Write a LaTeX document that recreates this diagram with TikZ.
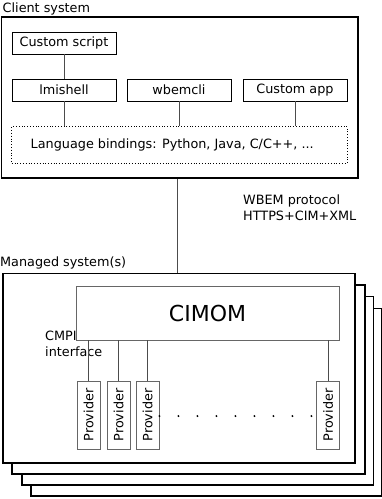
\documentclass[tikz,border=0pt]{standalone}
\usepackage{fontspec}
\setmainfont{DejaVu Sans}
\usetikzlibrary{positioning,calc}

\begin{document}
\begin{tikzpicture}[x=1pt,y=-1pt,
    box/.style={draw,line width=0.8pt,minimum width=104pt,minimum height=22pt,inner sep=0pt},
    frame/.style={draw,line width=1.6pt,fill=white,inner sep=0pt},
    gbox/.style={draw=black!60,line width=0.8pt,fill=white,inner sep=0pt},
    link/.style={draw=black!70,line width=0.7pt},
    lbl/.style={inner sep=0pt,align=left}]
    \fontsize{12.8}{16}\selectfont
    \useasboundingbox (0,0) rectangle (382,499);

    % Client system
    \node[lbl, anchor=base west] (clabel) at (2.5,12.7) {Client system};
    \node[frame, minimum width=356pt, minimum height=161.3pt] (client) at (179.7,97.4) {};
    \node[box] (script) at (64,43) {Custom script};
    \node[box] (lmishell) at (64,90) {lmishell};
    \node[box] (wbemcli) at (179,90) {wbemcli};
    \node[box] (app) at (295,90) {Custom app};
    \node[box, dotted, minimum width=335.6pt, minimum height=36.6pt] (bind) at (179.5,145) {};
    \node[lbl, anchor=west] (bindtxt) at (30.5,145) {Language bindings: Python, Java, C/C++, ...};
    \draw[link] (script) -- (lmishell);
    \foreach \n in {lmishell,wbemcli,app} {
        \draw[link] (\n) -- (\n |- bind.north);
    }

    % Managed systems (stacked)
    \node[lbl, anchor=base west] (mlabel) at (0,266.5) {Managed system(s)};
    \foreach \k/\l/\t/\r/\b in {3/30/307.7/381/495,2/21/295.7/372.7/484,1/11.3/284/364/473,0/2/272.7/354.3/462} {
        \node[frame, anchor=north west, minimum width={\r-\l}, minimum height={\b-\t}] (m\k) at (\l,\t) {};
    }

    % Protocol
    \draw[link] ([xshift=-2.7pt]client.south) -- ([xshift=-2.7pt]client.south |- m0.north);
    \node[lbl, anchor=base west] (wbem) at (243,220.7) {WBEM protocol\\HTTPS+CIM+XML};

    % CIMOM and providers
    \node[gbox, minimum width=263pt, minimum height=53.3pt, font=\fontsize{22}{26}\selectfont] (cimom) at (207.5,313.3) {CIMOM};
    \node[lbl, anchor=base west] (cmpi) at (45,356) {CMPI\\interface};
    \foreach \i/\x in {1/88.5,2/118.5,3/147.5,4/328} {
        \node[gbox, minimum width=23pt, minimum height=68pt] (p\i) at (\x,415) {\rotatebox{90}{Provider}};
        \draw[link] (p\i) -- (p\i |- cimom.south);
    }
    \draw[black, line width=2.2pt, line cap=round, dash pattern=on 0pt off 19pt] ([yshift=-1pt]p3.east) -- ([yshift=-1pt]p4.west);
\end{tikzpicture}
\end{document}
